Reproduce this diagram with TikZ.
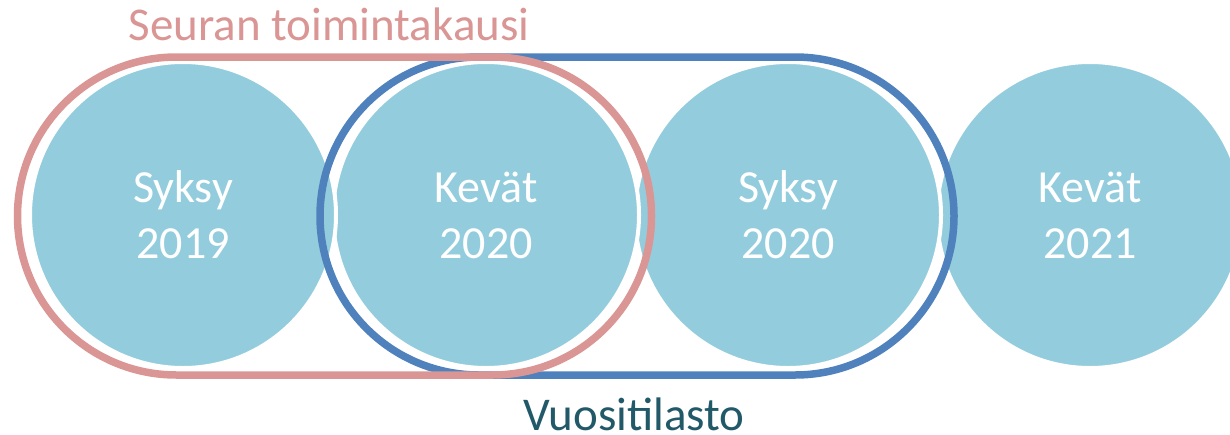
\documentclass[tikz,border=0pt]{standalone}
\usepackage{fontspec}
\setmainfont{Carlito}
\usepackage{xcolor}
\usetikzlibrary{calc, positioning, shapes.misc}
\definecolor{kausiCol}{HTML}{D99694}
\definecolor{tilastoCol}{HTML}{4F81BD}
\definecolor{jaksoCol}{HTML}{93CDDD}
\definecolor{tekstiCol}{HTML}{215968}

\begin{document}
\begin{tikzpicture}[
    x=1pt, y=-1pt,
    jakso/.style={circle, fill=jaksoCol, draw=white, line width=4pt, minimum size=306pt, inner sep=0pt,
        text=white, align=center, font=\fontsize{46}{56}\selectfont},
    kehys/.style={rounded rectangle, draw, line width=7.5pt, minimum width=634pt, minimum height=318pt, inner sep=0pt},
    otsikko/.style={anchor=base, font=\fontsize{47}{56}\selectfont}
]
\useasboundingbox (0,0) rectangle (1230,434);

% jaksot (oikealta vasemmalle)
\node[jakso] (k21) at (1090,215) {Kevät\\2021};
\node[jakso] (s20) at (788,215) {Syksy\\2020};
\node[jakso] (k20) at (486,215) {Kevät\\2020};
\node[jakso] (s19) at (183,215) {Syksy\\2019};

% kehykset
\node[kehys, draw=tilastoCol] (tilasto) at ($(k20)!0.5!(s20)+(0,1)$) {};
\node[kehys, draw=kausiCol] (kausi) at ($(s19)!0.5!(k20)+(0,1)$) {};

\node[otsikko, text=kausiCol] (kausiTxt) at (329,40) {Seuran toimintakausi};
\node[otsikko, text=tekstiCol] (tilastoTxt) at (634,430) {Vuositilasto};
\end{tikzpicture}
\end{document}
